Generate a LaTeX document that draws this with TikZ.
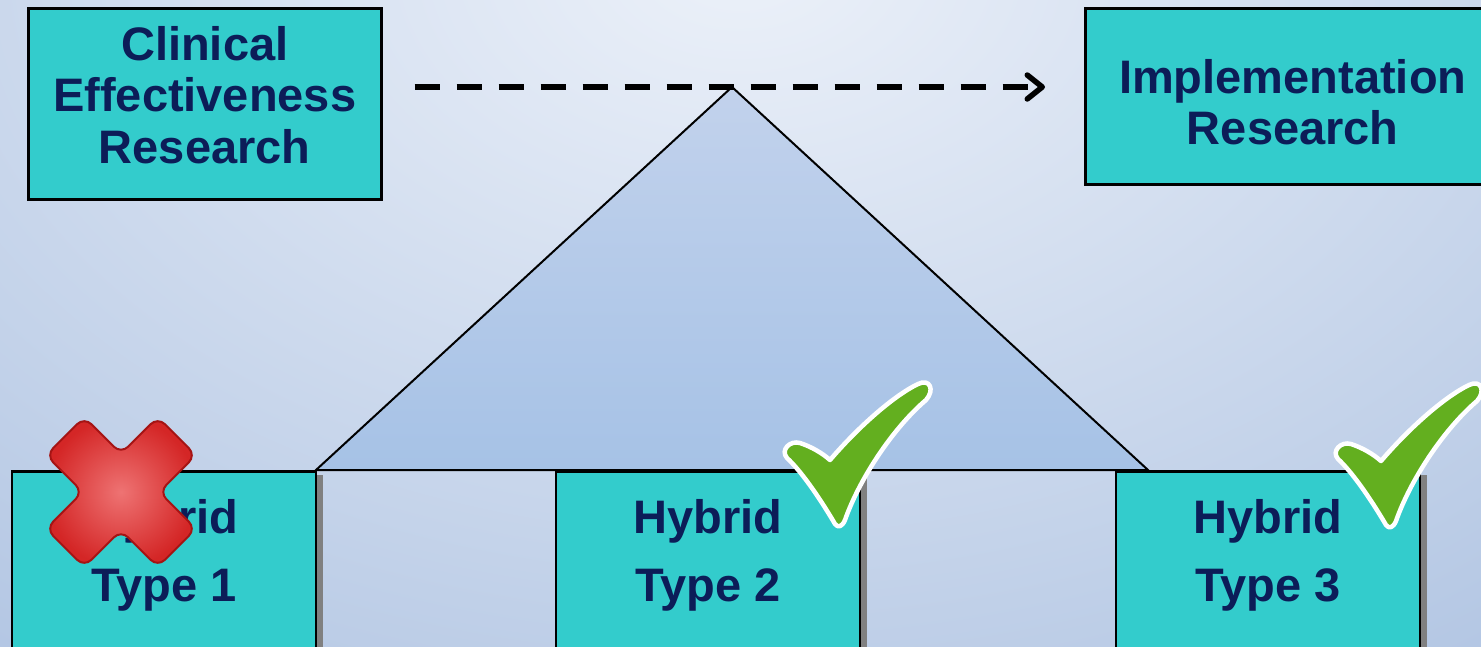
\documentclass[tikz,border=0pt]{standalone}
\usepackage{fontspec}
\setmainfont{Liberation Sans}
\usetikzlibrary{arrows.meta,calc,positioning}
\definecolor{boxteal}{RGB}{51,204,204}
\definecolor{textnavy}{RGB}{12,29,88}
\definecolor{bglight}{RGB}{236,241,249}
\definecolor{bgdark}{RGB}{160,184,220}
\definecolor{rooftop}{RGB}{194,210,236}
\definecolor{roofbottom}{RGB}{166,194,230}
\definecolor{shadowgray}{RGB}{128,128,128}
\definecolor{tickgreen}{RGB}{99,175,31}
\definecolor{crossred}{RGB}{212,38,38}
\definecolor{crosslight}{RGB}{238,115,115}
\definecolor{crossedge}{RGB}{165,20,20}
\def\drawtick(#1){\draw[fill=tickgreen, draw=white, line width=4.5pt, line join=round, shift={(#1)}] (0,0) .. controls (-17,-29) and (-35,-54) .. (-48,-66) .. controls (-55,-74) and (-45,-84) .. (-35,-81) .. controls (-23,-77) and (-13,-71) .. (-5,-64) .. controls (25,-99) and (60,-129) .. (83,-140) .. controls (95,-146) and (100,-134) .. (91,-124) .. controls (57,-95) and (24,-44) .. (10,-4) .. controls (7,3) and (3,4) .. (0,0) -- cycle;}
\def\drawcross(#1){\draw[line width=2pt, draw=crossedge, inner color=crosslight, outer color=crossred, rounded corners=10pt, shift={(#1)}, rotate=45] (27,27) -- (79,27) -- (79,-27) -- (27,-27) -- (27,-79) -- (-27,-79) -- (-27,-27) -- (-79,-27) -- (-79,27) -- (-27,27) -- (-27,79) -- (27,79) -- cycle;}

\begin{document}
\begin{tikzpicture}[x=1pt, y=-1pt,
	topbox/.style={draw=black, line width=2.5pt, fill=boxteal, inner sep=0pt, anchor=north west, text=textnavy, align=center, font=\fontsize{47pt}{51.5pt}\selectfont\bfseries},
	hybridbox/.style={draw=black, line width=2.5pt, fill=boxteal, inner sep=0pt, minimum width=304pt, minimum height=190pt, anchor=north, text=textnavy, align=center, font=\fontsize{47pt}{68.5pt}\selectfont\bfseries},
	flowarrow/.style={line width=5.5pt, dash pattern=on 25pt off 17pt, -{Straight Barb[length=15pt, width=24pt, round]}}]
			%%%%% START %%%%%
			
			\useasboundingbox (0,0) rectangle (1481,646);
			\clip (0,0) rectangle (1481,646);
			\shade[inner color=bglight, outer color=bgdark] (740,-40) ellipse (1700 and 1150);
			
			\coordinate (apex) at (732,87);
			\coordinate (roofleft) at (316,470);
			\coordinate (roofright) at (1148,470);
			\draw[line width=2pt, top color=rooftop, bottom color=roofbottom] (apex) -- (roofright) -- (roofleft) -- cycle;
			
			\node[topbox, minimum width=353pt, minimum height=191pt] (clinical) at (27,7) {Clinical\\Effectiveness\\Research\rule[-18pt]{0pt}{0pt}};
			\node[topbox, minimum width=415pt, minimum height=176pt] (impl) at (1084,7) {\rule{0pt}{46pt}Implementation\\Research};
			
			\fill[shadowgray] (310,475) rectangle (323,660);
			\fill[shadowgray] (854,475) rectangle (867,660);
			\fill[shadowgray] (1414,475) rectangle (1427,660);
			
			\node[hybridbox] (typeone) at (164,470) {Hybrid\\Type 1\rule[-32pt]{0pt}{0pt}};
			\node[hybridbox] (typetwo) at (708,470) {Hybrid\\Type 2\rule[-32pt]{0pt}{0pt}};
			\node[hybridbox] (typethree) at (1268,470) {Hybrid\\Type 3\rule[-32pt]{0pt}{0pt}};
			
			\draw[flowarrow, shorten <=32pt, shorten >=39pt] (clinical.east |- apex) -- (impl.west |- apex);
			
			\drawcross(121,492)
			\drawtick(835,524)
			\drawtick(1386,525)
			
			%%%%% END %%%%%
\end{tikzpicture}
\end{document}
